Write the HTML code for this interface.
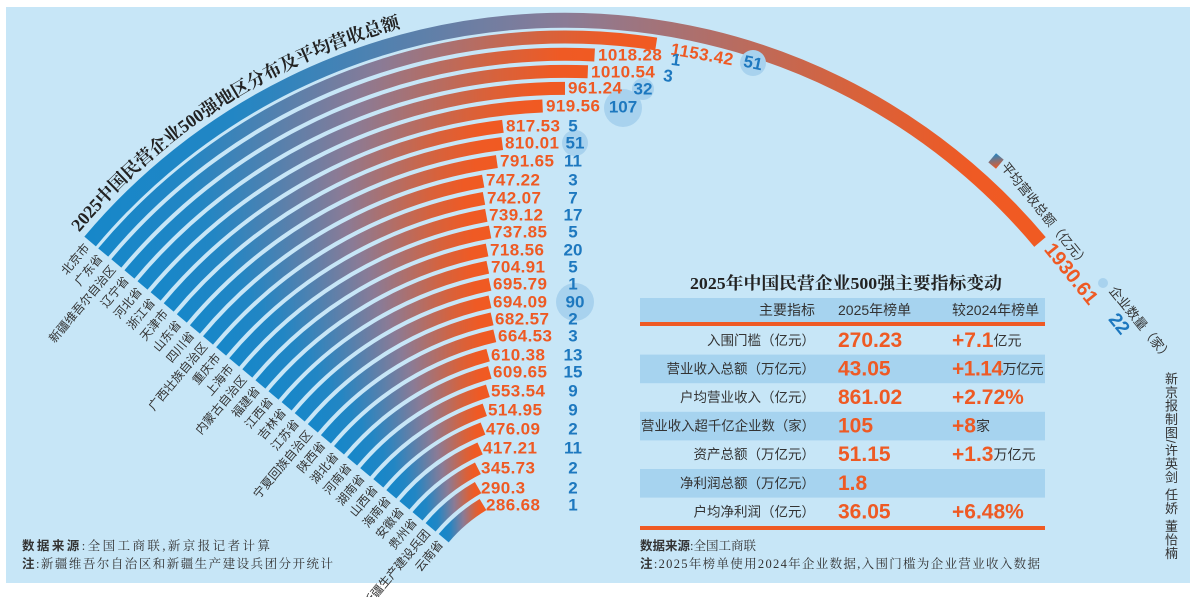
<!DOCTYPE html>
<html><head><meta charset="utf-8"><style>
html,body{margin:0;padding:0;background:#fff;}
body{width:1200px;height:597px;position:relative;overflow:hidden;font-family:"Liberation Sans","Noto Sans CJK SC",sans-serif;}
svg{position:absolute;left:0;top:0;}
.cr{position:absolute;left:1162px;top:372px;writing-mode:vertical-rl;font-size:13px;color:#333;letter-spacing:0.5px;line-height:16px;}
</style></head><body>
<svg width="1200" height="597" viewBox="0 0 1200 597" xmlns="http://www.w3.org/2000/svg">
<defs>
<linearGradient id="g" x1="0" y1="0" x2="1" y2="0">
<stop offset="0" stop-color="#1787c9"/><stop offset="0.15" stop-color="#2286c4"/>
<stop offset="0.5" stop-color="#8a7b96"/><stop offset="0.8" stop-color="#d7623c"/>
<stop offset="0.93" stop-color="#ef5a24"/><stop offset="1" stop-color="#f05a22"/>
</linearGradient>
<linearGradient id="lg" x1="0" y1="0" x2="1" y2="1"><stop offset="0" stop-color="#1f86c6"/><stop offset="1" stop-color="#ef5a24"/></linearGradient>
<path id="tp" d="M79.3 232.5 A634 634 0 0 1 882 91"/>
</defs>
<rect x="6" y="7" width="1184" height="576" fill="#c7e6f7"/>
<g fill="none" stroke="url(#g)" stroke-width="13">
<path d="M90.1 241.5 A620 620 0 0 1 1040 242" stroke-width="15"/>
<path d="M103.2 252.5 A602.9 602.9 0 0 1 656.2 44.0"/>
<path d="M116.3 263.4 A585.8 585.8 0 0 1 594.6 55.0"/>
<path d="M129.4 274.4 A568.7 568.7 0 0 1 587.8 71.8"/>
<path d="M142.5 285.4 A551.6 551.6 0 0 1 565 88.4"/>
<path d="M155.6 296.4 A534.5 534.5 0 0 1 542.6 106.0"/>
<path d="M168.7 307.4 A517.4 517.4 0 0 1 502.9 126.3"/>
<path d="M181.8 318.4 A500.3 500.3 0 0 1 502.3 143.6"/>
<path d="M194.9 329.4 A483.2 483.2 0 0 1 496.9 161.6"/>
<path d="M208.0 340.4 A466.1 466.1 0 0 1 483.2 181.1"/>
<path d="M221.1 351.4 A449 449 0 0 1 484.0 198.4"/>
<path d="M234.2 362.4 A431.9 431.9 0 0 1 486.3 215.3"/>
<path d="M247.3 373.4 A414.8 414.8 0 0 1 490.1 232.0"/>
<path d="M260.4 384.4 A397.7 397.7 0 0 1 487.1 250.0"/>
<path d="M273.5 395.4 A380.6 380.6 0 0 1 487.8 267.3"/>
<path d="M286.6 406.3 A363.5 363.5 0 0 1 490.0 284.3"/>
<path d="M299.7 417.3 A346.4 346.4 0 0 1 490.0 301.8"/>
<path d="M312.8 428.3 A329.3 329.3 0 0 1 492.1 318.9"/>
<path d="M325.9 439.3 A312.2 312.2 0 0 1 494.8 335.8"/>
<path d="M339.0 450.3 A295.1 295.1 0 0 1 488.1 355.1"/>
<path d="M352.1 461.3 A278 278 0 0 1 489.8 372.4"/>
<path d="M365.2 472.3 A260.9 260.9 0 0 1 487.9 390.8"/>
<path d="M378.3 483.3 A243.8 243.8 0 0 1 484.8 409.8"/>
<path d="M391.3 494.3 A226.7 226.7 0 0 1 483.0 428.6"/>
<path d="M404.4 505.3 A209.6 209.6 0 0 1 480.1 448.4"/>
<path d="M417.5 516.3 A192.5 192.5 0 0 1 477.9 468.3"/>
<path d="M430.6 527.3 A175.4 175.4 0 0 1 478.1 487.6"/>
<path d="M443.7 538.2 A158.3 158.3 0 0 1 483.0 504.6"/>
</g>
<text font-family="Liberation Serif,Noto Serif CJK SC,serif" font-weight="bold" font-size="18" fill="#222"><textPath href="#tp">2025中国民营企业500强地区分布及平均营收总额</textPath></text>
<g fill="#a8d2ee">
<circle cx="753" cy="63" r="13"/><circle cx="643" cy="89" r="11"/><circle cx="623" cy="108" r="19"/>
<circle cx="575" cy="143" r="13"/><circle cx="575" cy="302" r="19"/><circle cx="1103" cy="283" r="5"/>
</g>
<g font-size="12" fill="#333" text-anchor="end" dominant-baseline="central">
<text transform="translate(87,245.5) rotate(-50)">北京市</text>
<text transform="translate(100.2,256.5) rotate(-50)">广东省</text>
<text transform="translate(113.3,267.4) rotate(-50)">新疆维吾尔自治区</text>
<text transform="translate(126.4,278.4) rotate(-50)">辽宁省</text>
<text transform="translate(139.5,289.4) rotate(-50)">河北省</text>
<text transform="translate(152.6,300.4) rotate(-50)">浙江省</text>
<text transform="translate(165.7,311.4) rotate(-50)">天津市</text>
<text transform="translate(178.8,322.4) rotate(-50)">山东省</text>
<text transform="translate(191.9,333.4) rotate(-50)">四川省</text>
<text transform="translate(205,344.4) rotate(-50)">广西壮族自治区</text>
<text transform="translate(218.1,355.4) rotate(-50)">重庆市</text>
<text transform="translate(231.2,366.4) rotate(-50)">上海市</text>
<text transform="translate(244.3,377.4) rotate(-50)">内蒙古自治区</text>
<text transform="translate(257.4,388.4) rotate(-50)">福建省</text>
<text transform="translate(270.5,399.4) rotate(-50)">江西省</text>
<text transform="translate(283.6,410.3) rotate(-50)">吉林省</text>
<text transform="translate(296.7,421.3) rotate(-50)">江苏省</text>
<text transform="translate(309.8,432.3) rotate(-50)">宁夏回族自治区</text>
<text transform="translate(322.9,443.3) rotate(-50)">陕西省</text>
<text transform="translate(336,454.3) rotate(-50)">湖北省</text>
<text transform="translate(349.1,465.3) rotate(-50)">河南省</text>
<text transform="translate(362.2,476.3) rotate(-50)">湖南省</text>
<text transform="translate(375.3,487.3) rotate(-50)">山西省</text>
<text transform="translate(388.3,498.3) rotate(-50)">海南省</text>
<text transform="translate(401.4,509.3) rotate(-50)">安徽省</text>
<text transform="translate(414.5,520.3) rotate(-50)">贵州省</text>
<text transform="translate(427.6,531.3) rotate(-50)">新疆生产建设兵团</text>
<text transform="translate(440.7,542.2) rotate(-50)">云南省</text>
</g>
<g font-size="17" font-weight="bold" fill="#ee5a24" dominant-baseline="central" letter-spacing="0.4">
<text transform="translate(671,49) rotate(10)">1153.42</text>
<text x="598" y="55">1018.28</text>
<text x="591" y="72">1010.54</text>
<text x="568" y="88">961.24</text>
<text x="546" y="106">919.56</text>
<text x="506" y="126">817.53</text>
<text x="505" y="143">810.01</text>
<text x="500" y="161">791.65</text>
<text x="486" y="180">747.22</text>
<text x="487" y="198">742.07</text>
<text x="489" y="215">739.12</text>
<text x="493" y="232">737.85</text>
<text x="490" y="250">718.56</text>
<text x="491" y="267">704.91</text>
<text x="493" y="284">695.79</text>
<text x="493" y="302">694.09</text>
<text x="495" y="319">682.57</text>
<text x="498" y="336">664.53</text>
<text x="491" y="355">610.38</text>
<text x="493" y="372">609.65</text>
<text x="491" y="391">553.54</text>
<text x="488" y="410">514.95</text>
<text x="486" y="429">476.09</text>
<text x="483" y="448">417.21</text>
<text x="481" y="468">345.73</text>
<text x="481" y="488">290.3</text>
<text x="486" y="505">286.68</text>
</g>
<g font-size="17" font-weight="bold" fill="#1d78bf" dominant-baseline="central" text-anchor="middle">
<text transform="translate(753,63) rotate(12)">51</text>
<text transform="translate(676,60) rotate(8)">1</text>
<text transform="translate(668,76) rotate(6)">3</text>
<text x="643" y="89">32</text>
<text x="623" y="107">107</text>
<text x="573" y="126">5</text><text x="575" y="143">51</text><text x="573" y="161">11</text>
<text x="573" y="180">3</text><text x="573" y="198">7</text><text x="573" y="215">17</text>
<text x="573" y="232">5</text><text x="573" y="250">20</text><text x="573" y="267">5</text>
<text x="573" y="284">1</text><text x="575" y="302">90</text><text x="573" y="319">2</text>
<text x="573" y="336">3</text><text x="573" y="355">13</text><text x="573" y="372">15</text>
<text x="573" y="391">9</text><text x="573" y="410">9</text><text x="573" y="429">2</text>
<text x="573" y="448">11</text><text x="573" y="468">2</text><text x="573" y="488">2</text>
<text x="573" y="505">1</text>
</g>
<rect x="-5" y="-6" width="10" height="12" fill="url(#lg)" transform="translate(996,161) rotate(40)"/>
<text transform="translate(1004,164) rotate(51)" font-size="13" fill="#333" dominant-baseline="central">平均营收总额（亿元）</text>
<text transform="translate(1048,246) rotate(51)" font-size="20" font-weight="bold" fill="#ee5a24" dominant-baseline="central">1930.61</text>
<text transform="translate(1112,288) rotate(51)" font-size="13" fill="#333" dominant-baseline="central">企业数量（家）</text>
<text transform="translate(1112,316) rotate(51)" font-size="19" font-weight="bold" fill="#1d78bf" dominant-baseline="central">22</text>
<text x="846" y="289" text-anchor="middle" font-family="Liberation Serif,Noto Serif CJK SC,serif" font-weight="bold" font-size="17" fill="#222" textLength="312" lengthAdjust="spacingAndGlyphs">2025年中国民营企业500强主要指标变动</text>
<g fill="#a6d3ef">
<rect x="640" y="298" width="405" height="24"/>
<rect x="640" y="354.6" width="405" height="28.6"/>
<rect x="640" y="411.8" width="405" height="28.6"/>
<rect x="640" y="469" width="405" height="28.6"/>
</g>
<rect x="640" y="322" width="405" height="4" fill="#ef5a24"/>
<rect x="640" y="526" width="405" height="4" fill="#ef5a24"/>
<g font-size="14" fill="#333" dominant-baseline="central">
<text x="815" y="310" text-anchor="end">主要指标</text>
<text x="838" y="310">2025年榜单</text>
<text x="952" y="310">较2024年榜单</text>
</g>
<g font-size="13.5" fill="#333" dominant-baseline="central" text-anchor="end">
<text x="815" y="340.3">入围门槛（亿元）</text>
<text x="815" y="368.9">营业收入总额（万亿元）</text>
<text x="815" y="397.5">户均营业收入（亿元）</text>
<text x="815" y="426.1" textLength="174" lengthAdjust="spacingAndGlyphs">营业收入超千亿企业数（家）</text>
<text x="815" y="454.7">资产总额（万亿元）</text>
<text x="815" y="483.3">净利润总额（万亿元）</text>
<text x="815" y="511.9">户均净利润（亿元）</text>
</g>
<g font-size="21" font-weight="bold" fill="#ee5a24" dominant-baseline="central">
<text x="838" y="340.3">270.23</text>
<text x="838" y="368.9">43.05</text>
<text x="838" y="397.5">861.02</text>
<text x="838" y="426.1">105</text>
<text x="838" y="454.7">51.15</text>
<text x="838" y="483.3">1.8</text>
<text x="838" y="511.9">36.05</text>
<text x="952" y="340.3">+7.1<tspan font-size="14" font-weight="normal" fill="#333">亿元</tspan></text>
<text x="952" y="368.9" letter-spacing="-0.5">+1.14<tspan font-size="14" font-weight="normal" fill="#333" letter-spacing="-0.5">万亿元</tspan></text>
<text x="952" y="397.5">+2.72%</text>
<text x="952" y="426.1">+8<tspan font-size="14" font-weight="normal" fill="#333">家</tspan></text>
<text x="952" y="454.7">+1.3<tspan font-size="14" font-weight="normal" fill="#333">万亿元</tspan></text>
<text x="952" y="511.9">+6.48%</text>
</g>
<g font-size="12.5" fill="#333" font-family="Liberation Serif,Noto Serif CJK SC,serif">
<text x="22" y="550" textLength="248" lengthAdjust="spacing"><tspan font-weight="bold" font-family="Liberation Sans,Noto Sans CJK SC,sans-serif">数据来源</tspan>:全国工商联,新京报记者计算</text>
<text x="22" y="568" textLength="311" lengthAdjust="spacing"><tspan font-weight="bold" font-family="Liberation Sans,Noto Sans CJK SC,sans-serif">注</tspan>:新疆维吾尔自治区和新疆生产建设兵团分开统计</text>
<text x="640" y="550"><tspan font-weight="bold" font-family="Liberation Sans,Noto Sans CJK SC,sans-serif">数据来源</tspan>:全国工商联</text>
<text x="640" y="568" textLength="400" lengthAdjust="spacing"><tspan font-weight="bold" font-family="Liberation Sans,Noto Sans CJK SC,sans-serif">注</tspan>:2025年榜单使用2024年企业数据,入围门槛为企业营业收入数据</text>
</g>
</svg>
<div class="cr">新京报制图/许英剑&nbsp;任娇&nbsp;董怡楠</div>
</body></html>
